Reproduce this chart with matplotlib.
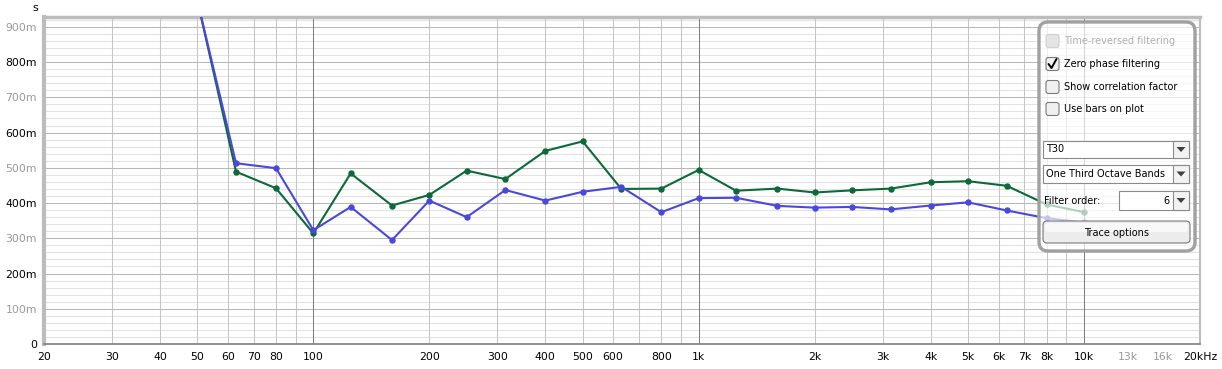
import numpy as np
import matplotlib
matplotlib.use("Agg")
import matplotlib.pyplot as plt
from matplotlib.patches import FancyBboxPatch, Rectangle, Polygon

#--- one third octave band centres and decay times (s)
freqs = [50, 63, 80, 100, 125, 160, 200, 250, 315, 400, 500, 630, 800,
         1000, 1250, 1600, 2000, 2500, 3150, 4000, 5000, 6300, 8000, 10000]

t30_blue = [0.975, 0.513, 0.499, 0.323, 0.389, 0.295, 0.407, 0.360, 0.437,
            0.407, 0.432, 0.446, 0.374, 0.414, 0.415, 0.392, 0.387, 0.389,
            0.382, 0.393, 0.402, 0.379, 0.357, 0.345]

t30_green = [0.975, 0.489, 0.442, 0.314, 0.484, 0.393, 0.423, 0.492, 0.468,
             0.548, 0.575, 0.440, 0.441, 0.494, 0.435, 0.441, 0.430, 0.436,
             0.441, 0.459, 0.462, 0.449, 0.396, 0.374]

#--- axis labels
x_ticks = [20, 30, 40, 50, 60, 70, 80, 100, 200, 300, 400, 500, 600, 800,
           1000, 2000, 3000, 4000, 5000, 6000, 7000, 8000, 10000, 13000,
           16000, 20000]
x_labels = ["20", "30", "40", "50", "60", "70", "80", "100", "200", "300",
            "400", "500", "600", "800", "1k", "2k", "3k", "4k", "5k", "6k",
            "7k", "8k", "10k", "13k", "16k", "20kHz"]
x_gray_labels = ["13k", "16k"]

y_ticks = [0, 0.1, 0.2, 0.3, 0.4, 0.5, 0.6, 0.7, 0.8, 0.9]
y_labels = ["0", "100m", "200m", "300m", "400m", "500m", "600m", "700m",
            "800m", "900m"]

W, H = 1222, 369
fig = plt.figure(figsize=(W / 100, H / 100), dpi=100)
fig.patch.set_facecolor("white")

ax = fig.add_axes([44 / W, 25 / H, 1156 / W, 327 / H])
ax.set_xscale("log")
ax.set_xlim(20, 20000)
ax.set_ylim(0, 0.928)

#--- grid
for dec in [10, 100, 1000, 10000]:
    for k in range(1, 10):
        f = dec * k
        if f < 20 or f > 20000:
            continue
        if k == 1 and dec >= 100:
            ax.axvline(f, color="#808080", lw=0.75, zorder=1)
        else:
            ax.axvline(f, color="#c6c6c6", lw=0.75, zorder=0.8)
for v in np.arange(0, 0.93, 0.02):
    major = abs(v * 10 - round(v * 10)) < 1e-6
    ax.axhline(v, color="#b8b8b8" if major else "#e2e2e2", lw=0.75,
               zorder=0.9 if major else 0.7)

#--- traces
ax.plot(freqs, t30_green, color="#0b6a38", lw=1.5, marker="o", ms=3.6,
        zorder=3)
ax.plot(freqs, t30_blue, color="#4a48dc", lw=1.5, marker="o", ms=3.6,
        zorder=4)

#--- ticks
ax.minorticks_off()
ax.set_xticks(x_ticks)
ax.set_xticklabels(x_labels)
ax.set_yticks(y_ticks)
ax.set_yticklabels(y_labels)
ax.tick_params(axis="both", length=0, labelsize=7.8)
ax.tick_params(axis="x", pad=6)
ax.tick_params(axis="y", pad=5)
for lab in ax.get_xticklabels():
    lab.set_color("#999999" if lab.get_text() in x_gray_labels else "black")
for i, lab in enumerate(ax.get_yticklabels()):
    lab.set_color("black" if i % 2 == 0 else "#999999")

for side in ["left", "top", "right"]:
    ax.spines[side].set_color("#bcbcbc")
    ax.spines[side].set_linewidth(1.5)
ax.spines["left"].set_linewidth(3)
ax.spines["top"].set_linewidth(2.5)
ax.spines["bottom"].set_color("#808080")
ax.spines["bottom"].set_linewidth(1.2)

fig.text(35 / W, 1 - 8 / H, "s", fontsize=8, ha="center", va="center")

#--- overlay panel (pixel coordinates)
ov = fig.add_axes([0, 0, 1, 1], facecolor="none")
ov.set_xlim(0, W)
ov.set_ylim(H, 0)
ov.axis("off")

ov.add_patch(FancyBboxPatch((1039, 22), 156, 229,
                            boxstyle="round,pad=0,rounding_size=9",
                            fc="white", alpha=0.68, ec="none", zorder=5))
ov.add_patch(FancyBboxPatch((1039, 22), 156, 229,
                            boxstyle="round,pad=0,rounding_size=9",
                            fc="none", ec="#a0a0a0", lw=2.4, zorder=6))

fs = 7
checks = [(41, "Time-reversed filtering", True, False),
          (64, "Zero phase filtering", False, True),
          (87, "Show correlation factor", False, False),
          (109, "Use bars on plot", False, False)]
for yc, txt, disabled, checked in checks:
    ov.add_patch(FancyBboxPatch((1046, yc - 6.5), 13, 13,
                                boxstyle="round,pad=0,rounding_size=2.5",
                                fc="#e4e4e4" if disabled else "#f0f0f0",
                                ec="#d0d0d0" if disabled else "#7a7a7a",
                                lw=0.8, zorder=7))
    if checked:
        ov.plot([1048.5, 1051.5, 1056.5], [yc, yc + 4, yc - 5],
                color="black", lw=1.4, zorder=8, solid_capstyle="round")
    ov.text(1064, yc, txt, fontsize=fs, va="center", ha="left",
            color="#b0b0b0" if disabled else "black", zorder=8)


def combo(x0, y0, w, h, txt, right=False):
    ov.add_patch(Rectangle((x0, y0), w, h, fc="white", ec="#8a8a8a",
                           lw=0.8, zorder=7))
    ov.add_patch(Rectangle((x0 + w - 16, y0), 16, h, fc="#f2f2f2",
                           ec="#8a8a8a", lw=0.8, zorder=7))
    cx, cy = x0 + w - 8, y0 + h / 2
    ov.add_patch(Polygon([[cx - 4.5, cy - 2.5], [cx + 4.5, cy - 2.5],
                          [cx, cy + 2.5]], closed=True, fc="#404040",
                         ec="none", zorder=8))
    if right:
        ov.text(x0 + w - 20, cy, txt, fontsize=fs, va="center", ha="right",
                zorder=8)
    else:
        ov.text(x0 + 3, cy, txt, fontsize=fs, va="center", ha="left",
                zorder=8)


combo(1043, 141, 146, 17, "T30")
combo(1043, 165, 146, 18, "One Third Octave Bands")
combo(1119, 191, 70, 19, "6", right=True)
ov.text(1044, 201, "Filter order:", fontsize=fs, va="center", ha="left",
        zorder=8)

ov.add_patch(FancyBboxPatch((1043, 221), 147, 22,
                            boxstyle="round,pad=0,rounding_size=4",
                            fc="#ececec", ec="#7a7a7a", lw=0.8, zorder=7))
ov.add_patch(FancyBboxPatch((1045, 223), 143, 9,
                            boxstyle="round,pad=0,rounding_size=3",
                            fc="#f8f8f8", ec="none", zorder=7.5))
ov.text(1116.5, 232.5, "Trace options", fontsize=fs, va="center",
        ha="center", zorder=8)

fig.savefig("out.png", dpi=100)
